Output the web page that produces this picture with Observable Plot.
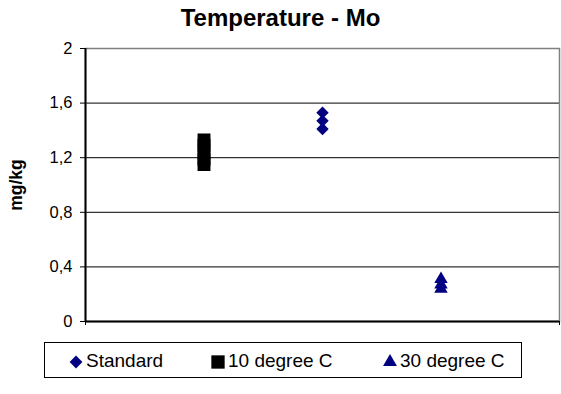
<!DOCTYPE html>
<html>
<head>
<meta charset="utf-8">
<script src="https://cdn.jsdelivr.net/npm/d3@7"></script>
<script src="https://cdn.jsdelivr.net/npm/@observablehq/plot@0.6"></script>
<style>
  body { margin: 0; background: #fff; font-family: Arial, "Liberation Sans", sans-serif; }
  #wrap { position: relative; width: 561px; height: 394px; overflow: hidden; background: #fff; }
  #title { position: absolute; left: 0; top: 4px; width: 561px; text-align: center; font-weight: bold; font-size: 24px; line-height: 28px; color: #000; }
  #chart { position: absolute; left: 0; top: 40px; }
  #legend { position: absolute; left: 44px; top: 342px; width: 478px; height: 36px; border: 1px solid #000; box-sizing: border-box; background: #fff; }
  .sym { position: absolute; top: 11px; }
  .lab { position: absolute; top: 8px; font-size: 19px; line-height: 20px; white-space: nowrap; color: #000; }
</style>
</head>
<body>
<div id="wrap">
  <div id="title">Temperature - Mo</div>
  <div id="chart"></div>
  <div id="legend"></div>
</div>
<script>
// ---- data ----
const title = "Temperature - Mo";
const yLabel = "mg/kg";
const seriesNames = ["Standard", "10 degree C", "30 degree C"];
const seriesX = [2, 1, 3];
const standardValues = [1.53, 1.47, 1.41];
const deg10Values = [1.33, 1.29, 1.24, 1.19, 1.15];
const deg30Values = [0.31, 0.27, 0.24];
const yTicks = [0, 0.4, 0.8, 1.2, 1.6, 2];
const seriesSymbols = ["diamond2", "square", "triangle"];
const seriesColors = ["#000080", "#000000", "#000080"];
const seriesR = [5.6, 7.3, 5.0];

const allValues = [standardValues, deg10Values, deg30Values];
const rows = [];
seriesNames.forEach((name, i) => {
  allValues[i].forEach(v => rows.push({series: name, x: seriesX[i], y: v}));
});

const fmt = d => String(d).replace(".", ",");

const plot = Plot.plot({
  width: 561,
  height: 295,
  marginLeft: 85,
  marginRight: 2,
  marginTop: 8,
  marginBottom: 14,
  style: { fontFamily: "Arial, 'Liberation Sans', sans-serif", fontSize: "16.5px", color: "#000", background: "transparent", overflow: "visible" },
  x: { domain: [0, 4], axis: null },
  y: { domain: [0, 2] },
  marks: [
    Plot.gridY(yTicks, { stroke: "#000", strokeOpacity: 1, strokeWidth: 1 }),
    Plot.frame({ stroke: "#808080", strokeWidth: 1.5 }),
    Plot.axisY(yTicks, { tickSize: 5, tickPadding: 8, tickFormat: fmt, label: yLabel, labelAnchor: "center", labelOffset: 76, labelArrow: "none", fontSize: 16.5 }),
    Plot.axisX([0, 4], { tickSize: 4, tickFormat: () => "", label: null }),
    Plot.ruleX([0], { stroke: "#000", strokeWidth: 2 }),
    Plot.ruleY([0], { stroke: "#000", strokeWidth: 2 }),
    ...seriesNames.map((name, i) =>
      Plot.dot(rows.filter(r => r.series === name), {
        x: "x", y: "y", symbol: () => seriesSymbols[i], r: seriesR[i],
        fill: seriesColors[i], stroke: "none"
      })
    )
  ]
});
document.getElementById("chart").appendChild(plot);
d3.select(plot).selectAll('g[aria-label="y-axis label"] text')
  .style("font-weight", "bold").style("font-size", "17.5px");
document.getElementById("title").textContent = title;

// ---- legend ----
const legend = d3.select("#legend");
const symX = [31, 173, 345];
const labX = [41, 183, 355];
seriesNames.forEach((name, i) => {
  const svg = legend.append("svg").attr("class", "sym")
    .attr("width", 16).attr("height", 16)
    .style("left", (symX[i] - 8) + "px");
  const rr = seriesR[i] * 1.03;
  const size = Math.PI * rr * rr;
  const sym = {diamond2: d3.symbolDiamond2, square: d3.symbolSquare, triangle: d3.symbolTriangle}[seriesSymbols[i]];
  svg.append("path").attr("transform", "translate(8,8)")
    .attr("d", d3.symbol(sym, size)()).attr("fill", seriesColors[i]);
  legend.append("span").attr("class", "lab").style("left", labX[i] + "px").text(name);
});
</script>
</body>
</html>
